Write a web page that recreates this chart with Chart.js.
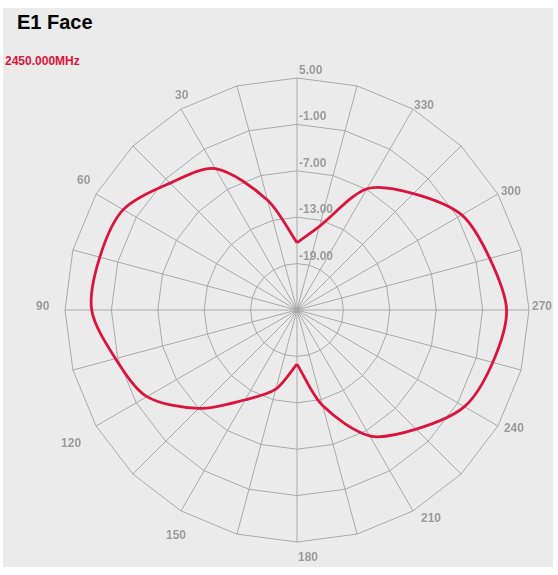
<!DOCTYPE html>
<html>
<head>
<meta charset="utf-8">
<script src="https://cdn.jsdelivr.net/npm/chart.js@4"></script>
<style>
  body { margin: 0; background: #fff; font-family: "Liberation Sans", Arial, sans-serif; }
  #panel { position: absolute; left: 3px; top: 8px; width: 550px; height: 559px; background: #ebebeb; }
  #title { position: absolute; left: 17px; top: 12px; font-size: 20px; line-height: 20px; font-weight: bold; color: #000; }
  #freq { position: absolute; left: 5px; top: 55px; font-size: 12px; line-height: 12px; font-weight: bold; color: #dc143c; }
  #wrap { position: absolute; left: 0; top: 0; width: 558px; height: 575px; }
</style>
</head>
<body>
<div id="panel"></div>
<div id="title">E1 Face</div>
<div id="freq">2450.000MHz</div>
<div id="wrap"><canvas id="polar"></canvas></div>
<script>
// angles are counter-clockwise from the top, as on the plot
const angleDeg = [0, 15, 30, 45, 60, 75, 90, 105, 120, 135, 150, 165,
                  180, 195, 210, 225, 240, 255, 270, 285, 300, 315, 330, 345];
// gain (dB)
const gainDb = [-16.3, -10.3, -3.9, -1.8, 0.95, 1.4, 1.55, -0.7, -2.6, -7.0, -11.6, -14.4,
                -18.0, -12.2, -6.2, -3.2, 0.0, 1.2, 2.1, 0.8, -0.4, -3.7, -6.9, -13.8];
const labeledAngles = [30, 60, 90, 120, 150, 180, 210, 240, 270, 300, 330];
const rMin = -25;
const rMax = 5;
const rStep = 6;

// radar goes clockwise, so walk the arrays backwards
const order = angleDeg.map((a, i) => (angleDeg.length - i) % angleDeg.length);
const labels = order.map((k) => angleDeg[k]);
const values = order.map((k) => gainDb[k]);

// split into the two lobes so the nulls at 0 and 180 stay sharp
const rightLobe = labels.map((a, i) => (a === 0 || a >= 180 ? values[i] : null));
const leftLobe = labels.map((a, i) => (a <= 180 ? values[i] : null));

const GRAY_TEXT = "#9a9a9a";
const FONT = "bold 12px 'Liberation Sans', Arial, sans-serif";

// nudges for the angle labels (left edge, baseline) from the ring point
const labelNudge = {
  30: [-6, -10], 60: [-19, -10], 90: [-29, 0], 120: [-35, 21], 150: [-15, 28],
  180: [1, 19], 210: [8, 11], 240: [6, 6], 270: [3, 0], 300: [3, 1], 330: [1, 0],
};

const polarText = {
  id: "polarText",
  beforeDatasetsDraw(chart) {
    const s = chart.scales.r;
    const ctx = chart.ctx;
    ctx.save();
    ctx.font = FONT;
    ctx.fillStyle = GRAY_TEXT;
    ctx.textAlign = "left";
    ctx.textBaseline = "alphabetic";
    s.ticks.forEach((t, i) => {
      if (i === 0) return;
      const d = s.getDistanceFromCenterForValue(t.value);
      ctx.fillText(t.value.toFixed(2), s.xCenter + 2, s.yCenter - d - 4);
    });
    ctx.restore();
  },
  afterDraw(chart) {
    const s = chart.scales.r;
    const ctx = chart.ctx;
    ctx.save();
    ctx.font = FONT;
    ctx.fillStyle = GRAY_TEXT;
    ctx.textAlign = "left";
    ctx.textBaseline = "alphabetic";
    labels.forEach((a, i) => {
      if (!labeledAngles.includes(a)) return;
      const p = s.getPointPosition(i, s.drawingArea);
      const n = labelNudge[a] || [0, 0];
      ctx.fillText(String(a), p.x + n[0], p.y + n[1]);
    });
    ctx.restore();
  },
};

const lobeStyle = {
  borderColor: "#dc143c",
  borderWidth: 2.8,
  fill: false,
  pointRadius: 0,
  tension: 0.3,
  spanGaps: false,
};

new Chart(document.getElementById("polar"), {
  type: "radar",
  data: {
    labels: labels,
    datasets: [
      { label: "2450.000MHz", data: rightLobe, ...lobeStyle },
      { label: "2450.000MHz", data: leftLobe, ...lobeStyle },
    ],
  },
  options: {
    responsive: true,
    maintainAspectRatio: false,
    animation: false,
    layout: { padding: { left: 65, right: 28, top: 78, bottom: 32 } },
    plugins: {
      legend: { display: false },
      tooltip: { enabled: false },
    },
    scales: {
      r: {
        min: rMin,
        max: rMax,
        ticks: { stepSize: rStep, display: false },
        grid: { color: "#a8a8a8", lineWidth: 1, circular: false },
        angleLines: { color: "#a8a8a8", lineWidth: 1 },
        pointLabels: { display: false },
      },
    },
  },
  plugins: [polarText],
});
</script>
</body>
</html>
